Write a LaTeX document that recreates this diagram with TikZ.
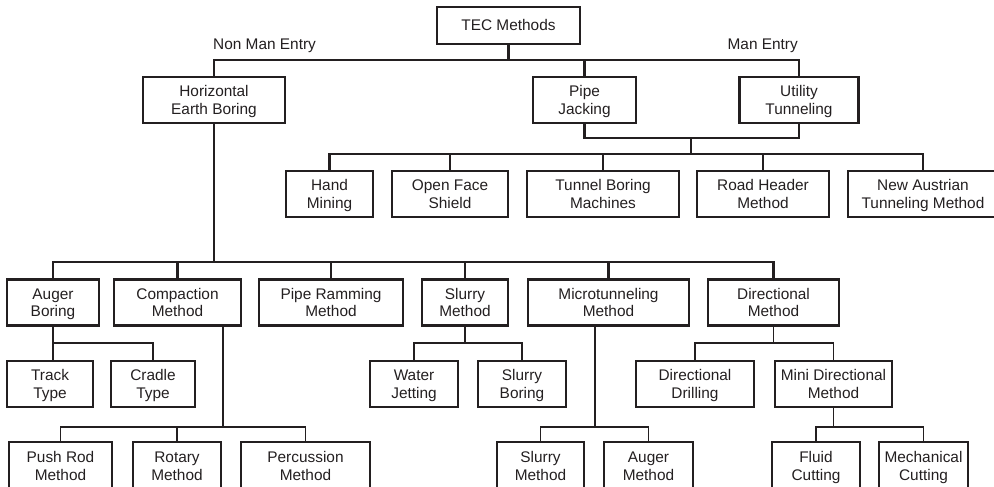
\documentclass[tikz,border=0pt]{standalone}
\usepackage{fontspec}
\setmainfont{Liberation Sans}
\usepackage{tikz}
\usetikzlibrary{positioning, calc}
\definecolor{inkgray}{RGB}{35,31,32}
\newcommand{\boxfont}{\fontsize{15.4}{17.8}\selectfont}
\tikzset{every node/.append style={align=center}}
\tikzset{
  blk/.style={rectangle, draw=inkgray, line width=2.4pt, inner sep=0pt,
    minimum height=46pt, font=\boxfont, text=inkgray,
    text height=28.8pt, text depth=0pt},
  sub/.style={rectangle, draw=inkgray, line width=1.3pt, inner sep=0pt,
    minimum height=46pt, font=\boxfont, text=inkgray,
    text height=28.8pt, text depth=0pt},
  bus/.style={draw=inkgray, line width=2.2pt},
  twig/.style={draw=inkgray, line width=1.3pt},
  lbl/.style={font=\boxfont, text=inkgray, inner sep=0pt}
}

\begin{document}
\begin{tikzpicture}[x=1pt, y=-1pt]
  \useasboundingbox (0,0) rectangle (994,487);
  \clip (0,0) rectangle (994,487);
  % top
  \node[blk, minimum width=143pt, minimum height=37pt, text height=11pt] (tec) at (508.5,25.5) {TEC Methods};
  \node[lbl, anchor=west] (nme) at (213,46) {Non Man Entry};
  \node[lbl, anchor=east] (me) at (798,46) {Man Entry};
  \node[blk, minimum width=142pt] (heb) at (214,100) {Horizontal\\Earth Boring};
  \node[blk, minimum width=103pt] (pj) at (584.5,100) {Pipe\\Jacking};
  \node[blk, minimum width=119pt] (ut) at (799,100) {Utility\\Tunneling};
  % man entry methods
  \node[blk, minimum width=87pt] (hm) at (329.5,194) {Hand\\Mining};
  \node[blk, minimum width=116pt] (ofs) at (450,194) {Open Face\\Shield};
  \node[blk, minimum width=152pt] (tbm) at (603,194) {Tunnel Boring\\Machines};
  \node[blk, minimum width=132pt] (rhm) at (763,194) {Road Header\\Method};
  \node[blk, minimum width=150pt] (natm) at (923,194) {New Austrian\\Tunneling Method};
  % horizontal earth boring methods
  \node[blk, minimum width=92pt] (ab) at (53,302.5) {Auger\\Boring};
  \node[blk, minimum width=127pt] (cm) at (177.5,302.5) {Compaction\\Method};
  \node[blk, minimum width=144pt] (prm) at (331,302.5) {Pipe Ramming\\Method};
  \node[blk, minimum width=86pt] (sm) at (465,302.5) {Slurry\\Method};
  \node[blk, minimum width=161pt] (mtm) at (608.5,302.5) {Microtunneling\\Method};
  \node[blk, minimum width=131pt] (dm) at (773.5,302.5) {Directional\\Method};
  % third level
  \node[sub, minimum width=86pt] (tt) at (50,384) {Track\\Type};
  \node[sub, minimum width=84pt] (ct) at (153,384) {Cradle\\Type};
  \node[sub, minimum width=88pt] (wj) at (414,384) {Water\\Jetting};
  \node[sub, minimum width=88pt] (sb) at (522,384) {Slurry\\Boring};
  \node[sub, minimum width=118pt] (dd) at (695,384) {Directional\\Drilling};
  \node[sub, minimum width=117pt] (mdm) at (833.5,384) {Mini Directional\\Method};
  % fourth level
  \node[sub, minimum width=103pt, minimum height=48pt] (prod) at (60.5,466) {Push Rod\\Method};
  \node[sub, minimum width=88pt, minimum height=48pt] (rot) at (177,466) {Rotary\\Method};
  \node[sub, minimum width=129pt, minimum height=48pt] (perc) at (305.5,466) {Percussion\\Method};
  \node[sub, minimum width=87pt, minimum height=48pt] (slm) at (540.5,466) {Slurry\\Method};
  \node[sub, minimum width=89pt, minimum height=48pt] (aum) at (648.5,466) {Auger\\Method};
  \node[sub, minimum width=88pt, minimum height=48pt] (fc) at (816,466) {Fluid\\Cutting};
  \node[sub, minimum width=89pt, minimum height=48pt] (mc) at (923.5,466) {Mechanical\\Cutting};

  % junctions
  \coordinate (tecj) at (508.5,60);
  \coordinate (manj) at (691,138);
  \coordinate (manb) at (691,154);
  \coordinate (hebj) at (214,262);
  \coordinate (abj) at (53,343);
  \coordinate (smj) at (465,343);
  \coordinate (dmj) at (773.5,343);
  \coordinate (cmj) at (223,427);
  \coordinate (mtj) at (595,427);
  \coordinate (mdj) at (833.5,427);

  % connectors
  \draw[bus] (tec.south) -- (tecj);
  \draw[bus] (heb.north) |- (tecj) -| (ut.north);
  \draw[bus] (pj.north) -- (pj.north |- tecj);
  \draw[bus] (pj.south) |- (manj) -| (ut.south);
  \draw[bus] (manj) -- (manb);
  \draw[bus] (hm.north) |- (manb) -| (natm.north);
  \draw[bus] (ofs.north) -- (ofs.north |- manb);
  \draw[bus] (tbm.north) -- (tbm.north |- manb);
  \draw[bus] (rhm.north) -- (rhm.north |- manb);
  \draw[bus] (heb.south) -- (hebj);
  \draw[bus] (ab.north) |- (hebj) -| (dm.north);
  \foreach \n in {cm, prm, sm, mtm}
    \draw[bus] (\n.north) -- (\n.north |- hebj);
  \draw[twig] (ab.south) -- (abj);
  \draw[twig] (tt.north -| abj) |- (abj) -| (ct.north);
  \draw[twig] (sm.south) -- (smj);
  \draw[twig] (wj.north) |- (smj) -| (sb.north);
  \draw[twig] (dm.south) -- (dmj);
  \draw[twig] (dd.north) |- (dmj) -| (mdm.north);
  \draw[twig] (cm.south -| cmj) -- (cmj);
  \draw[twig] (prod.north) |- (cmj) -| (perc.north);
  \draw[twig] (rot.north) -- (rot.north |- cmj);
  \draw[twig] (mtm.south -| mtj) -- (mtj);
  \draw[twig] (slm.north) |- (mtj) -| (aum.north);
  \draw[twig] (mdm.south) -- (mdj);
  \draw[twig] (fc.north) |- (mdj) -| (mc.north);
\end{tikzpicture}
\end{document}
